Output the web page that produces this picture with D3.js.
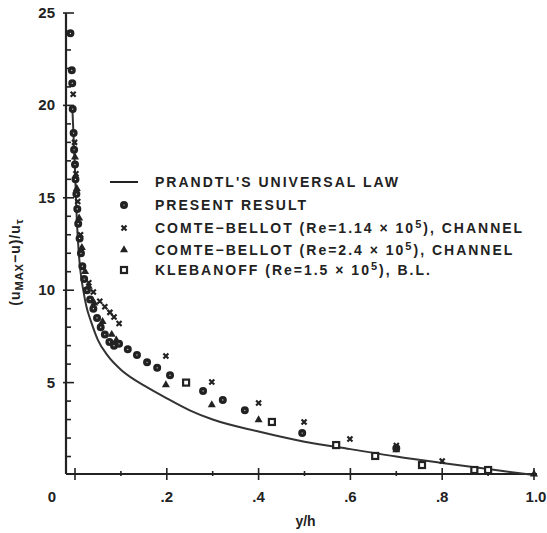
<!DOCTYPE html>
<html>
<head>
<meta charset="utf-8">
<script src="https://cdn.jsdelivr.net/npm/d3@7"></script>
<style>
  body { margin: 0; background: #fff; }
  svg { display: block; font-family: "Liberation Sans", Arial, sans-serif; }
  .lab { font-weight: bold; fill: #222; }
</style>
</head>
<body>
<div id="chart"></div>
<script>
// Prandtl's universal law (y/h, value)
var prandtl = [[-0.006,20.0],[0.0,16.5],[0.004,13.8],[0.008,12.1],[0.012,11.0],[0.018,10.0],
  [0.025,9.1],[0.035,8.3],[0.05,7.3],[0.07,6.5],[0.1,5.7],[0.13,5.15],[0.15,4.85],[0.2,4.15],
  [0.25,3.5],[0.3,3.0],[0.4,2.35],[0.5,1.8],[0.6,1.4],[0.7,1.0],[0.8,0.65],[0.9,0.32],[1.0,0.0]];

var presentResult = [[-0.01,23.9],[-0.007,21.9],[-0.006,21.2],[-0.005,19.8],[-0.003,18.5],
  [-0.002,17.6],[0.0,16.8],[0.001,16.0],[0.003,15.2],[0.005,14.4],[0.007,13.6],[0.01,12.8],
  [0.013,12.0],[0.016,11.3],[0.02,10.6],[0.026,10.0],[0.033,9.5],[0.04,9.0],[0.048,8.5],
  [0.056,8.0],[0.065,7.6],[0.075,7.2],[0.085,7.0],[0.096,7.1],[0.115,6.8],[0.135,6.5],
  [0.157,6.1],[0.179,5.8],[0.207,5.4],[0.279,4.55],[0.322,4.06],[0.37,3.5],[0.495,2.27],
  [0.70,1.45]];

var comteLow = [[-0.004,20.6],[-0.001,18.0],[0.002,16.3],[0.006,14.8],[0.012,13.0],
  [0.03,10.4],[0.04,9.9],[0.054,9.4],[0.065,9.1],[0.076,8.8],[0.085,8.55],[0.096,8.2],
  [0.198,6.44],[0.298,5.03],[0.40,3.9],[0.499,2.87],[0.599,1.95],[0.70,1.6],[0.80,0.76]];

var comteHigh = [[0.0,17.2],[0.004,15.5],[0.009,13.9],[0.015,12.3],[0.022,11.0],[0.03,10.2],
  [0.042,9.3],[0.06,8.3],[0.08,7.6],[0.09,7.3],[0.198,4.87],[0.298,3.79],[0.40,2.98],
  [0.70,1.35],[1.0,0.05]];

var klebanoff = [[0.242,5.0],[0.429,2.87],[0.569,1.62],[0.654,1.03],[0.756,0.54],[0.87,0.27],[0.9,0.27]];

var xTickLabels = [0.2, 0.4, 0.6, 0.8, 1.0];
var yTickLabels = [5, 10, 15, 20, 25];
var legendNames = ["PRANDTL'S UNIVERSAL LAW", "PRESENT RESULT",
  "COMTE\u2212BELLOT (Re=1.14 \u00d7 10|5|), CHANNEL",
  "COMTE\u2212BELLOT (Re=2.4 \u00d7  10|5|), CHANNEL",
  "KLEBANOFF (Re=1.5 \u00d7  10|5|), B.L."];

var width = 547, height = 533, ink = '#222';
var axisX = 66, axisY = 474;

var svg = d3.select('#chart').append('svg')
  .attr('width', width).attr('height', height);

var x = d3.scaleLinear().domain([0, 1]).range([75, 534]);
var y = d3.scaleLinear().domain([0, 25]).range([475, 13]);

// axis lines
svg.append('line').attr('x1', axisX).attr('x2', axisX).attr('y1', y(25)).attr('y2', axisY)
  .attr('stroke', ink).attr('stroke-width', 2.2);
svg.append('line').attr('x1', axisX).attr('x2', x(1) + 3).attr('y1', axisY).attr('y2', axisY)
  .attr('stroke', ink).attr('stroke-width', 2.2);

// y ticks
svg.append('g').selectAll('line').data(d3.range(1, 26)).enter().append('line')
  .attr('x1', function(d) { return d % 5 === 0 ? axisX - 3 : axisX; })
  .attr('x2', function(d) { return d % 5 === 0 ? axisX + 8 : axisX + 5; })
  .attr('y1', function(d) { return y(d); })
  .attr('y2', function(d) { return y(d); })
  .attr('stroke', ink).attr('stroke-width', 1.6);

svg.append('g').selectAll('text').data(yTickLabels).enter().append('text')
  .attr('class', 'lab').attr('x', 55).attr('y', function(d) { return y(d) + 5; })
  .attr('text-anchor', 'end').style('font-size', '15px').text(function(d) { return d; });

// x ticks
svg.append('g').selectAll('line').data(d3.range(0, 11)).enter().append('line')
  .attr('x1', function(d) { return x(d / 10); })
  .attr('x2', function(d) { return x(d / 10); })
  .attr('y1', function(d) { return d % 2 === 0 ? axisY - 6 : axisY - 3; })
  .attr('y2', function(d) { return d % 2 === 0 ? axisY + 6 : axisY + 2; })
  .attr('stroke', ink).attr('stroke-width', 1.6);

svg.append('g').selectAll('text').data(xTickLabels).enter().append('text')
  .attr('class', 'lab').attr('x', function(d) { return x(d) + (d === 1 ? 2 : 0); }).attr('y', 502)
  .attr('text-anchor', 'middle').style('font-size', '15px')
  .text(function(d) { return d === 1 ? '1.0' : d3.format('.1f')(d).replace(/^0/, ''); });

svg.append('text').attr('class', 'lab').attr('x', 52).attr('y', 502)
  .attr('text-anchor', 'middle').style('font-size', '15px').text('0');

// axis titles
svg.append('text').attr('class', 'lab').attr('x', x(0.5) + 1).attr('y', 526)
  .attr('text-anchor', 'middle').style('font-size', '14px').text('y/h');

var yt = svg.append('text').attr('class', 'lab')
  .attr('transform', 'translate(20,262) rotate(-90)')
  .attr('text-anchor', 'middle').style('font-size', '14px').style('letter-spacing', '1px');
yt.append('tspan').text('(u');
yt.append('tspan').attr('dy', 3).style('font-size', '11px').text('MAX');
yt.append('tspan').attr('dy', -3).text('\u2212u)/u');
yt.append('tspan').attr('dy', 3).style('font-size', '11px').text('\u03c4');

// Prandtl curve
var line = d3.line()
  .x(function(d) { return x(d[0]); })
  .y(function(d) { return y(d[1]); })
  .curve(d3.curveMonotoneX);

svg.append('path').datum(prandtl).attr('d', line)
  .attr('fill', 'none').attr('stroke', '#333').attr('stroke-width', 2);

// markers
function circles(g, data) {
  g.selectAll('circle').data(data).enter().append('circle')
    .attr('cx', function(d) { return x(d[0]); }).attr('cy', function(d) { return y(d[1]); })
    .attr('r', 2.3).attr('fill', '#fff').attr('stroke', ink).attr('stroke-width', 3.4);
}
function crosses(g, data) {
  g.selectAll('path').data(data).enter().append('path')
    .attr('transform', function(d) { return 'translate(' + x(d[0]) + ',' + y(d[1]) + ')'; })
    .attr('d', 'M-2.5,-2.5L2.5,2.5M-2.5,2.5L2.5,-2.5')
    .attr('stroke', ink).attr('stroke-width', 2.2);
}
function triangles(g, data) {
  g.selectAll('path').data(data).enter().append('path')
    .attr('transform', function(d) { return 'translate(' + x(d[0]) + ',' + y(d[1]) + ')'; })
    .attr('d', d3.symbol().type(d3.symbolTriangle).size(28))
    .attr('fill', ink);
}
function squares(g, data) {
  g.selectAll('rect').data(data).enter().append('rect')
    .attr('x', function(d) { return x(d[0]) - 3; }).attr('y', function(d) { return y(d[1]) - 3; })
    .attr('width', 6).attr('height', 6)
    .attr('fill', '#fff').attr('stroke', ink).attr('stroke-width', 2.2);
}

circles(svg.append('g'), presentResult);
crosses(svg.append('g'), comteLow);
triangles(svg.append('g'), comteHigh);
squares(svg.append('g'), klebanoff);

// legend
var rows = [182, 205, 228, 250, 270];
var legend = svg.append('g');
legend.append('line').attr('x1', 110).attr('x2', 138).attr('y1', rows[0]).attr('y2', rows[0])
  .attr('stroke', ink).attr('stroke-width', 2);
circles(legend.append('g'), [[x.invert(124), y.invert(rows[1])]]);
crosses(legend.append('g'), [[x.invert(124), y.invert(rows[2])]]);
triangles(legend.append('g'), [[x.invert(124), y.invert(rows[3])]]);
squares(legend.append('g'), [[x.invert(124), y.invert(rows[4])]]);

legendNames.forEach(function(name, i) {
  var t = legend.append('text').attr('class', 'lab').attr('x', 155).attr('y', rows[i] + 5)
    .style('font-size', '14px').style('letter-spacing', '2px');
  var parts = name.split('|');
  t.append('tspan').text(parts[0]);
  if (parts.length > 1) {
    t.append('tspan').attr('dy', -5).style('font-size', '11px').text(parts[1]);
    t.append('tspan').attr('dy', 5).text(parts[2]);
  }
});
</script>
</body>
</html>
